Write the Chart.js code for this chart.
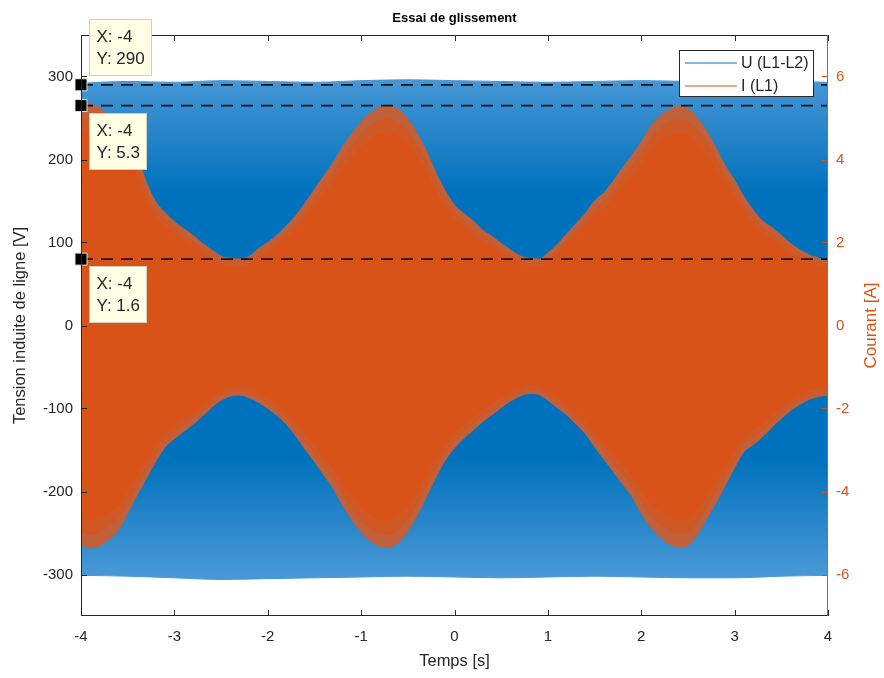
<!DOCTYPE html>
<html>
<head>
<meta charset="utf-8">
<script src="https://cdn.jsdelivr.net/npm/chart.js@4.4.0/dist/chart.umd.min.js"></script>
<style>
  html, body { margin: 0; padding: 0; background: #fff; }
</style>
</head>
<body>
<canvas id="essai" width="884" height="678"></canvas>
<script>
// enveloppe du courant I (L1), lue sur la figure, pas de 0.1 s
const tI = [-4.0,-3.9,-3.8,-3.7,-3.6,-3.5,-3.4,-3.3,-3.2,-3.1,-3.0,-2.9,-2.8,-2.7,-2.6,-2.5,-2.4,-2.3,-2.2,-2.1,
  -2.0,-1.9,-1.8,-1.7,-1.6,-1.5,-1.4,-1.3,-1.2,-1.1,-1.0,-0.9,-0.8,-0.7,-0.6,-0.5,-0.4,-0.3,-0.2,-0.1,
  0.0,0.1,0.2,0.3,0.4,0.5,0.6,0.7,0.8,0.9,1.0,1.1,1.2,1.3,1.4,1.5,1.6,1.7,1.8,1.9,
  2.0,2.1,2.2,2.3,2.4,2.5,2.6,2.7,2.8,2.9,3.0,3.1,3.2,3.3,3.4,3.5,3.6,3.7,3.8,3.9,4.0];
const iHaut = [5.30,5.32,5.25,5.05,4.85,4.62,4.10,3.45,2.98,2.72,2.50,2.33,2.17,1.98,1.82,1.67,1.62,1.60,1.66,1.85,
  2.00,2.18,2.40,2.65,2.95,3.28,3.60,3.92,4.30,4.62,4.90,5.12,5.26,5.30,5.20,4.98,4.62,4.20,3.68,3.25,
  2.90,2.70,2.52,2.30,2.15,1.98,1.82,1.68,1.62,1.60,1.75,1.95,2.20,2.45,2.70,3.00,3.20,3.48,3.80,4.10,
  4.42,4.80,5.05,5.20,5.28,5.22,5.00,4.68,4.28,3.85,3.50,3.10,2.78,2.52,2.36,2.17,1.98,1.82,1.70,1.62,1.57];
const iBas = [-5.28,-5.36,-5.30,-5.15,-4.92,-4.52,-4.08,-3.68,-3.28,-2.93,-2.73,-2.55,-2.38,-2.18,-1.97,-1.80,-1.70,-1.68,-1.74,-1.85,
  -2.00,-2.17,-2.38,-2.66,-2.98,-3.28,-3.60,-3.92,-4.32,-4.68,-4.98,-5.20,-5.32,-5.35,-5.22,-4.96,-4.57,-4.12,-3.66,-3.25,
  -2.95,-2.72,-2.52,-2.32,-2.15,-1.98,-1.82,-1.70,-1.64,-1.66,-1.80,-1.98,-2.15,-2.37,-2.60,-2.92,-3.22,-3.52,-3.82,-4.12,
  -4.52,-4.86,-5.10,-5.26,-5.33,-5.30,-5.03,-4.65,-4.27,-3.85,-3.42,-3.04,-2.87,-2.68,-2.45,-2.24,-2.05,-1.90,-1.78,-1.71,-1.68];

// enveloppe de la tension U (L1-L2), pas de 0.5 s
const tU = [-4,-3.5,-3,-2.5,-2,-1.5,-1,-0.5,0,0.5,1,1.5,2,2.5,3,3.5,4];
const uHaut = [292,294,293,295,294,293,295,296,295,294,293,294,295,294,293,294,293];
const uBas = [-301,-302,-304,-306,-305,-304,-303,-302,-303,-304,-303,-302,-303,-304,-304,-302,-301];

// data tips
const tipX = [-4, -4, -4];
const tipY = [290, 5.3, 1.6];
const tipAxis = ['y', 'y2', 'y2'];

// graduations
const xTicks = [-4,-3,-2,-1,0,1,2,3,4];
const uTicks = [-300,-200,-100,0,100,200,300];
const iTicks = [-6,-4,-2,0,2,4,6];

const BLEU = '#0072BD', ORANGE = '#D95319', INK = '#262626';
const FONT = '"Liberation Sans", Arial, Helvetica, sans-serif';

function degradeBleu(ctx) {
  const chart = ctx.chart, y = chart.scales.y;
  if (!y || !chart.chartArea) return BLEU;
  const y0 = y.getPixelForValue(300), y1 = y.getPixelForValue(-300);
  const g = chart.ctx.createLinearGradient(0, y0, 0, y1);
  g.addColorStop(0, 'rgb(72,152,214)');
  g.addColorStop(0.12, 'rgb(36,132,200)');
  g.addColorStop(0.23, BLEU);
  g.addColorStop(0.77, BLEU);
  g.addColorStop(0.88, 'rgb(36,132,200)');
  g.addColorStop(1, 'rgb(72,152,214)');
  return g;
}

const bande = (label, xs, ys, axis, color, order) => ({
  label, yAxisID: axis, order,
  data: xs.map((x, i) => ({ x, y: ys[i] })),
  borderColor: color, backgroundColor: color, borderWidth: 1,
  fill: 'origin', pointRadius: 0, cubicInterpolationMode: 'monotone'
});

const tirets = tipY.map((v, i) => ({
  label: 'tip' + i, yAxisID: tipAxis[i], order: 0, clip: false,
  data: [{ x: xTicks[0], y: v }, { x: xTicks[xTicks.length - 1], y: v }],
  borderColor: 'rgba(0,0,0,0.85)', borderWidth: 1.8, borderDash: [12, 8],
  fill: false, pointStyle: 'rect', pointRadius: [8.5, 0],
  pointBackgroundColor: '#000', pointBorderColor: '#e6e6cf', pointBorderWidth: 1
}));

const decor = {
  id: 'decor',
  afterDatasetsDraw(chart) {
    const { ctx, chartArea: a, scales } = chart;
    ctx.save();
    ctx.lineWidth = 1;
    ctx.strokeStyle = INK;
    ctx.beginPath();
    ctx.moveTo(a.left + 0.5, a.top + 0.5); ctx.lineTo(a.right, a.top + 0.5);
    ctx.moveTo(a.left + 0.5, a.top); ctx.lineTo(a.left + 0.5, a.bottom);
    ctx.moveTo(a.left, a.bottom - 0.5); ctx.lineTo(a.right, a.bottom - 0.5);
    xTicks.forEach(v => {
      const px = Math.round(scales.x.getPixelForValue(v)) + 0.5;
      ctx.moveTo(px, a.bottom); ctx.lineTo(px, a.bottom - 6);
      ctx.moveTo(px, a.top); ctx.lineTo(px, a.top + 6);
    });
    uTicks.forEach(v => {
      const py = Math.round(scales.y.getPixelForValue(v)) + 0.5;
      ctx.moveTo(a.left, py); ctx.lineTo(a.left + 6, py);
    });
    ctx.stroke();
    ctx.strokeStyle = ORANGE;
    ctx.beginPath();
    ctx.moveTo(a.right - 0.5, a.top); ctx.lineTo(a.right - 0.5, a.bottom);
    iTicks.forEach(v => {
      const py = Math.round(scales.y2.getPixelForValue(v)) + 0.5;
      ctx.moveTo(a.right, py); ctx.lineTo(a.right - 6, py);
    });
    ctx.stroke();
    ctx.restore();
  },
  afterDraw(chart) {
    const { ctx, chartArea: a, scales } = chart;
    ctx.save();
    // titre
    ctx.fillStyle = '#000'; ctx.font = 'bold 13px ' + FONT;
    ctx.textAlign = 'center'; ctx.textBaseline = 'middle';
    ctx.fillText('Essai de glissement', (a.left + a.right) / 2, 18);
    // legende
    ctx.fillStyle = '#fff';
    ctx.fillRect(679.5, 50.5, 134, 46);
    ctx.strokeStyle = INK; ctx.lineWidth = 1;
    ctx.strokeRect(679.5, 50.5, 134, 46);
    [['U (L1-L2)', BLEU, 63], ['I (L1)', ORANGE, 86]].forEach(([txt, col, y]) => {
      ctx.strokeStyle = col; ctx.lineWidth = 1.2;
      ctx.beginPath(); ctx.moveTo(685, y); ctx.lineTo(737, y); ctx.stroke();
      ctx.fillStyle = INK; ctx.font = '16px ' + FONT;
      ctx.textAlign = 'left'; ctx.textBaseline = 'middle';
      ctx.fillText(txt, 741, y + 1);
    });
    // data tips
    ctx.font = '17px ' + FONT;
    tipY.forEach((v, i) => {
      const px = scales.x.getPixelForValue(tipX[i]);
      const py = scales[tipAxis[i]].getPixelForValue(v);
      const l1 = 'X: ' + tipX[i], l2 = 'Y: ' + v;
      const w = Math.round(Math.max(ctx.measureText(l1).width, ctx.measureText(l2).width) + 14);
      const h = 56;
      const bx = Math.round(px + 8) + 0.5;
      const by = Math.round(i === 0 ? py - 10 - h : py + 7) + 0.5;
      ctx.fillStyle = '#ffffe6';
      ctx.fillRect(bx, by, w, h);
      ctx.strokeStyle = '#cfcfbf'; ctx.lineWidth = 1;
      ctx.strokeRect(bx, by, w, h);
      ctx.fillStyle = INK; ctx.textAlign = 'left'; ctx.textBaseline = 'middle';
      ctx.fillText(l1, bx + 7, by + 18);
      ctx.fillText(l2, bx + 7, by + 40);
    });
    // titre de l'axe de droite
    ctx.translate(871, (a.top + a.bottom) / 2);
    ctx.rotate(-Math.PI / 2);
    ctx.fillStyle = ORANGE; ctx.font = '17px ' + FONT;
    ctx.textAlign = 'center'; ctx.textBaseline = 'middle';
    ctx.fillText('Courant [A]', 0, 0);
    ctx.restore();
  }
};

const ticksDe = arr => s => { s.ticks = arr.map(v => ({ value: v })); };

new Chart(document.getElementById('essai'), {
  type: 'line',
  data: {
    datasets: [
      ...tirets,
      bande('I coeur +', tI, iHaut, 'y3', ORANGE, 1),
      bande('I coeur -', tI, iBas, 'y3', ORANGE, 2),
      bande('I milieu +', tI, iHaut, 'y4', 'rgb(208,88,36)', 3),
      bande('I milieu -', tI, iBas, 'y4', 'rgb(208,88,36)', 4),
      bande('I (L1)', tI, iHaut, 'y2', 'rgb(192,97,60)', 5),
      bande('I (L1) -', tI, iBas, 'y2', 'rgb(192,97,60)', 6),
      bande('U (L1-L2)', tU, uHaut, 'y', degradeBleu, 7),
      bande('U (L1-L2) -', tU, uBas, 'y', degradeBleu, 8)
    ]
  },
  options: {
    responsive: false,
    animation: false,
    events: [],
    layout: { padding: { top: 35 } },
    plugins: {
      legend: { display: false },
      tooltip: { enabled: false },
      title: { display: false }
    },
    scales: {
      x: {
        type: 'linear', min: -4, max: 4,
        afterBuildTicks: ticksDe(xTicks), afterFit: s => { s.height = 62; },
        grid: { display: false, drawTicks: false }, border: { display: false },
        ticks: { color: INK, font: { family: FONT, size: 15 }, padding: 12, maxRotation: 0 },
        title: { display: true, text: 'Temps [s]', color: INK, font: { family: FONT, size: 16.5 }, padding: { top: 0, bottom: 7 } }
      },
      y: {
        position: 'left', min: -350, max: 350,
        afterBuildTicks: ticksDe(uTicks), afterFit: s => { s.width = 81; },
        grid: { display: false, drawTicks: false }, border: { display: false },
        ticks: { color: INK, font: { family: FONT, size: 15 }, padding: 8 },
        title: { display: true, text: 'Tension induite de ligne [V]', color: INK, font: { family: FONT, size: 16.5 }, padding: { top: 11, bottom: 0 } }
      },
      y2: {
        position: 'right', min: -7, max: 7,
        afterBuildTicks: ticksDe(iTicks), afterFit: s => { s.width = 56; },
        grid: { display: false, drawTicks: false }, border: { display: false },
        ticks: { color: ORANGE, font: { family: FONT, size: 15 }, padding: 8 }
      },
      y3: { display: false, min: -8.0, max: 8.0 },
      y4: { display: false, min: -7.45, max: 7.45 }
    }
  },
  plugins: [decor]
});
</script>
</body>
</html>
